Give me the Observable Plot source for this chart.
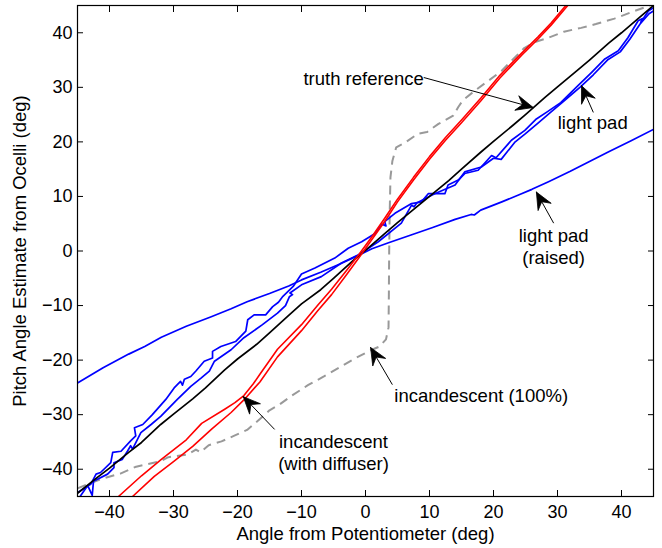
<!DOCTYPE html>
<html><head><meta charset="utf-8">
<script src="https://cdn.jsdelivr.net/npm/d3@7"></script>
<script src="https://cdn.jsdelivr.net/npm/@observablehq/plot@0.6"></script>
<style>body{margin:0;background:#fff;}</style>
</head><body><div id="chart"></div>
<script>
const xDomain = [-45, 45];
const yDomain = [-45, 45];
const xTicks = [-40, -30, -20, -10, 0, 10, 20, 30, 40];
const yTicks = [-40, -30, -20, -10, 0, 10, 20, 30, 40];
const xLabel = "Angle from Potentiometer (deg)";
const yLabel = "Pitch Angle Estimate from Ocelli (deg)";

// series: [x, y] pairs
const truthRef = [[-45,-44.4],[-42,-41.6],[-40,-39.8],[-37,-36.9],[-35,-35.1],[-32,-31.8],[-30,-29.9],[-27,-27.1],[-25,-25.1],[-22,-21.8],[-20,-19.8],[-17,-17.1],[-15,-15],[-12,-11.8],[-10,-9.7],[-7,-7.1],[-5,-5],[-2,-1.8],[0,0.1],[3,3.2],[5,5.2],[8,8.1],[10,10],[13,12.9],[15,15],[18,18.1],[20,20.1],[23,23],[25,25],[28,28.1],[30,30.1],[33,33],[35,35],[38,38.1],[40,40],[43,43],[45,45]];

const redA = [[-38.6,-45],[-35,-41.2],[-31.9,-38.2],[-28,-34.6],[-25.6,-31.6],[-22,-29],[-20.4,-27.8],[-19,-26.5],[-17.5,-24.3],[-16.5,-22.6],[-13.75,-18],[-10,-13.5],[-7.5,-10],[-5.3,-7],[-3,-3.6],[-1,-0.6],[1,2.6],[3,6],[5,9.5],[7.5,13.5],[10,17.3],[12.5,20.8],[15,24],[18,28],[21,32.2],[24.4,36.3],[27,39.3],[29,41.8],[31.3,45]];
const redB = [[-36.4,-45],[-33,-41.3],[-30,-38.6],[-27,-35.8],[-24,-32.6],[-21,-29.6],[-19,-27.3],[-16.5,-24],[-13.75,-19.4],[-10,-14.6],[-7.5,-11],[-5.3,-8],[-3,-4.4],[-1,-1.2],[1,2.1],[3,5.4],[5,9],[7.5,13],[10,16.8],[12.5,20.3],[15,23.5],[18,27.5],[21,31.7],[24.4,35.9],[27,38.9],[29,41.4],[31.6,45]];

const lightPadA = [[-45,-44.3],[-42.9,-42.7],[-42.1,-40.9],[-41.4,-40.6],[-39.8,-38.8],[-39.5,-36.9],[-38.2,-36.7],[-36.7,-34.8],[-35.9,-33.9],[-36.1,-32.4],[-34.8,-31.8],[-33.3,-30],[-31.2,-27.2],[-29.9,-25.1],[-28.9,-23.9],[-28.6,-24.6],[-28.3,-23.5],[-27.3,-23],[-26.5,-22],[-25.2,-20.2],[-23.9,-19.6],[-23.9,-18.4],[-22.6,-17.5],[-20.3,-16.6],[-18.7,-14.7],[-18.4,-12.6],[-17.4,-11.7],[-15.6,-11.7],[-14.5,-10.2],[-13.6,-9.4],[-12.9,-8.3],[-11.3,-6.5],[-10,-4.2],[-7.9,-3.1],[-4.8,-1.3],[-2.7,0.5],[-0.6,1.7],[1.5,3.2],[2.6,4.9],[3.2,4.6],[3.0,5.4],[4.6,6.9],[7.2,8.7],[8.75,9],[9.8,10.5],[12.4,10.5],[12.9,12.1],[14.5,13],[15.5,14.2],[17.6,14.8],[19.7,17.5],[20.4,17.1],[22.8,20.3],[24.9,22.1],[26.7,24.2],[28.5,25.6],[30.5,27.2],[33.2,30.3],[35.3,32.7],[37.4,35.2],[39.5,36.7],[41,39.1],[42.6,42.2],[43.3,42.6],[43,41.9],[44.2,44],[45,44.6]];
const lightPadB = [[-44.6,-45],[-43.4,-43],[-42.7,-44.8],[-42.5,-42.2],[-40.3,-40.9],[-39.3,-39.7],[-39.3,-38.8],[-38,-38.2],[-37.2,-36.7],[-36.7,-35.7],[-36.4,-36.3],[-35.1,-33.3],[-33.5,-31.8],[-32,-30.3],[-29.4,-27.2],[-27.3,-24.8],[-25.7,-23.3],[-24.4,-22],[-23.6,-20.2],[-21,-18.1],[-19,-15.9],[-16.1,-13.5],[-13.75,-11.4],[-12.5,-10],[-11.9,-8.4],[-11.4,-8],[-11.8,-7.7],[-10,-6.2],[-6.9,-4.7],[-3.75,-2.2],[-1.1,-0.7],[2,1.7],[5.6,5.1],[7.2,8.4],[7.6,8.1],[8,8.8],[10.8,10.5],[14,12.1],[15.5,14.5],[18.1,15.4],[20,17],[21.2,16.8],[23.3,19.9],[25,21.5],[27,23.5],[29,25.5],[31.5,28],[33.5,30],[35.6,32.3],[37.8,35],[39.8,36.5],[41.3,38.8],[42.9,41.6],[44.3,43.5],[45,44]];

const lightPadRaised = [[-45,-24.2],[-41,-21.4],[-37,-18.9],[-34.5,-17.5],[-31.9,-15.8],[-28,-13.8],[-24.2,-12.1],[-21,-10.6],[-18.5,-9.3],[-15,-7.8],[-12,-6.4],[-10,-5.3],[-7,-3.9],[-4,-2.4],[-1.1,-0.8],[1,0.4],[3.6,1.5],[7,2.9],[10.5,4.3],[14,5.8],[16.5,6.7],[17,6.6],[18,7.5],[21.3,9],[24,10.3],[26,11.3],[28.6,12.7],[32,14.6],[35,16.4],[38,18.2],[41.5,20.2],[45,22.3]];

const incandescent100 = [[-45,-43.5],[-41.3,-41.8],[-38.3,-40.8],[-36,-39.6],[-32,-38.5],[-30.8,-37.8],[-27.8,-37.3],[-26.5,-36.4],[-25.8,-36.9],[-24.5,-35.6],[-22.5,-34.9],[-20.4,-33.8],[-18.5,-32.8],[-16.5,-30.8],[-15,-29.2],[-13.5,-28.2],[-11.5,-26.5],[-9,-24.6],[-6.5,-23],[-4,-21.3],[-1.5,-19.6],[0.8,-18.2],[2.2,-17.5],[3.2,-16.2],[3.6,-14],[3.65,-8],[3.7,0],[3.8,8],[3.9,13.5],[4.2,16.5],[4.8,19],[6.1,19.8],[8.2,21.5],[9.6,21.8],[11.4,23.3],[13.7,24.8],[14.5,26.4],[15.2,27.6],[17.1,29.4],[19.2,31.2],[21.25,33],[22.5,34.5],[24.8,37.2],[26.5,38.3],[28.6,39.1],[31,40.2],[33.7,40.9],[36,41.6],[38.9,42.6],[41.6,43.8],[43.5,44.6],[44.5,45]];

// annotations (data units)
const labelText = ["truth reference", "light pad", "light pad\n(raised)", "incandescent (100%)", "incandescent\n(with diffuser)"];
const labelX = [-9.7, 35.5, 29.4, 4.5, -5];
const labelY = [31.8, 23.6, 0.9, -26.3, -36.8];
const labelAnchor = ["start", "middle", "middle", "start", "middle"];
const arrowFromX = [9.1, 35.6, 29.4, 4.2, -14.2];
const arrowFromY = [31.8, 25.4, 5.1, -24.5, -32.7];
const arrowToX = [26.2, 33.75, 26.7, 0.8, -19.1];
const arrowToY = [26.3, 30.3, 10.8, -17.7, -26.7];

const width = 662, height = 548;
const marginLeft = 77, marginRight = 9, marginTop = 5, marginBottom = 52;
const tickLen = 6;
const font = "'Liberation Sans', Arial, Helvetica, sans-serif";

const toObj = (arr) => arr.map(([x, y]) => ({x, y}));
const labels = labelText.map((t, i) => ({text: t, x: labelX[i], y: labelY[i], anchor: labelAnchor[i]}));
const arrows = arrowToX.map((_, i) => ({x1: arrowFromX[i], y1: arrowFromY[i], x2: arrowToX[i], y2: arrowToY[i]}));

// arrowheads: built in pixel space with Plot scales, then mapped back to data
const xs = Plot.scale({x: {domain: xDomain, range: [marginLeft, width - marginRight]}});
const ys = Plot.scale({y: {domain: yDomain, range: [height - marginBottom, marginTop]}});
const headL = 17, headW = 7.5, headN = 11;
const heads = [];
arrows.forEach((a, i) => {
  const tx = xs.apply(a.x2), ty = ys.apply(a.y2);
  const fx = xs.apply(a.x1), fy = ys.apply(a.y1);
  const d = Math.hypot(tx - fx, ty - fy);
  const ux = (tx - fx) / d, uy = (ty - fy) / d, nx = -uy, ny = ux;
  const pts = [[tx, ty], [tx - headL*ux + headW*nx, ty - headL*uy + headW*ny], [tx - headN*ux, ty - headN*uy], [tx - headL*ux - headW*nx, ty - headL*uy - headW*ny], [tx, ty]];
  pts.forEach(([px, py]) => heads.push({id: i, x: xs.invert(px), y: ys.invert(py)}));
});

const lineOpts = (color, w) => ({x: "x", y: "y", stroke: color, strokeWidth: w, clip: true, strokeLinejoin: "round"});
const textOpts = {x: "x", y: "y", text: "text", lineAnchor: "middle", lineHeight: 1.2, fontSize: 18.5, fill: "black"};

const chart = Plot.plot({
  width, height, marginLeft, marginRight, marginTop, marginBottom,
  style: {fontFamily: font, fontSize: "18px", color: "black", background: "white"},
  x: {domain: xDomain},
  y: {domain: yDomain},
  marks: [
    Plot.line(toObj(incandescent100), {...lineOpts("#999999", 2), strokeDasharray: "9,6", strokeLinecap: "butt"}),
    Plot.line(toObj(lightPadRaised), lineOpts("#0000ff", 1.7)),
    Plot.line(toObj(lightPadA), lineOpts("#0000ff", 1.7)),
    Plot.line(toObj(lightPadB), lineOpts("#0000ff", 1.7)),
    Plot.line(toObj(truthRef), lineOpts("black", 1.7)),
    Plot.line(toObj(redA), lineOpts("#ff0000", 1.6)),
    Plot.line(toObj(redB), lineOpts("#ff0000", 1.6)),
    Plot.link(arrows, {x1: "x1", y1: "y1", x2: "x2", y2: "y2", stroke: "black", strokeWidth: 1}),
    Plot.line(heads, {x: "x", y: "y", z: "id", fill: "black", stroke: "black", strokeWidth: 0.8, strokeLinejoin: "miter"}),
    Plot.text(labels.filter((d) => d.anchor === "start"), {...textOpts, textAnchor: "start"}),
    Plot.text(labels.filter((d) => d.anchor === "middle"), {...textOpts, textAnchor: "middle"}),
    // tick labels and axis titles
    Plot.axisX({ticks: xTicks, anchor: "bottom", tickSize: 0, tickPadding: 9, fontSize: 18, label: null}),
    Plot.axisX({ticks: [], anchor: "bottom", tickSize: 0, fontSize: 18.5, label: xLabel, labelAnchor: "center", labelArrow: "none", labelOffset: 43}),
    Plot.axisY({ticks: yTicks, anchor: "left", tickSize: 0, tickPadding: 5, fontSize: 18, label: null}),
    Plot.axisY({ticks: [], anchor: "left", tickSize: 0, fontSize: 18.5, label: yLabel, labelAnchor: "center", labelArrow: "none", labelOffset: 65}),
    // inward ticks on all four sides
    Plot.axisX({ticks: xTicks, anchor: "bottom", tickSize: tickLen, dy: -tickLen, tickFormat: () => "", label: null}),
    Plot.axisX({ticks: xTicks, anchor: "top", tickSize: tickLen, dy: tickLen, tickFormat: () => "", label: null}),
    Plot.axisY({ticks: yTicks, anchor: "left", tickSize: tickLen, dx: tickLen, tickFormat: () => "", label: null}),
    Plot.axisY({ticks: yTicks, anchor: "right", tickSize: tickLen, dx: -tickLen, tickFormat: () => "", label: null}),
    Plot.frame({stroke: "black", strokeWidth: 1.2})
  ]
});
document.getElementById("chart").append(chart);
</script>
</body></html>
